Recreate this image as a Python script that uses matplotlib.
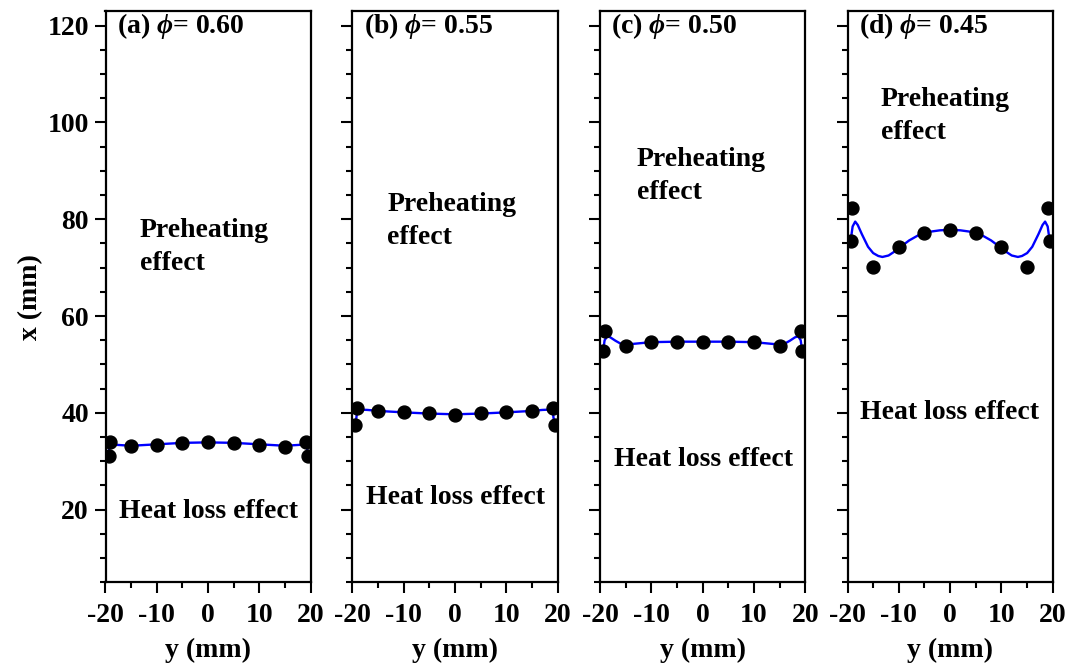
import matplotlib
matplotlib.use("Agg")
import matplotlib.pyplot as plt
from matplotlib.ticker import MultipleLocator

plt.rcParams['font.family'] = ['Liberation Serif', 'DejaVu Serif']
plt.rcParams['font.weight'] = 'bold'
plt.rcParams['axes.unicode_minus'] = False
plt.rcParams['mathtext.fontset'] = 'custom'
plt.rcParams['mathtext.it'] = 'Liberation Serif:italic:bold'
plt.rcParams['mathtext.rm'] = 'Liberation Serif:bold'
plt.rcParams['mathtext.bf'] = 'Liberation Serif:bold'

# Measured flame-front positions x (mm) across the channel width y (mm)
point_y = [-19.4, -19.1, -15, -10, -5, 0, 5, 10, 15, 19.1, 19.4]
front_a = [31.1, 34.0, 33.1, 33.4, 33.8, 33.9, 33.8, 33.4, 33.0, 34.0, 31.1]
front_b = [37.4, 41.0, 40.4, 40.1, 39.9, 39.6, 39.9, 40.1, 40.4, 41.0, 37.4]
front_c = [52.7, 56.9, 53.9, 54.7, 54.7, 54.7, 54.7, 54.7, 53.9, 56.9, 52.7]
front_d = [75.5, 82.4, 70.2, 74.2, 77.1, 77.8, 77.1, 74.2, 70.2, 82.4, 75.5]

# Fitted front profiles
fit_a_y = [-19.4, -19.2, -18, -15, -10, -5, 0, 5, 10, 15, 18, 19.2, 19.4]
fit_a_x = [31.1, 33.6, 33.4, 33.2, 33.5, 33.8, 33.9, 33.8, 33.5, 33.2, 33.4, 33.6, 31.1]

fit_b_y = [-19.4, -19.0, -17, -15, -10, -5, 0, 5, 10, 15, 17, 19.0, 19.4]
fit_b_x = [37.4, 40.7, 40.6, 40.4, 40.1, 39.85, 39.7, 39.85, 40.1, 40.4, 40.6, 40.7, 37.4]

fit_c_y = [-19.4, -19.1, -18.6, -18, -17, -16, -15, -13, -10, -5, 0,
           5, 10, 13, 15, 16, 17, 18, 18.6, 19.1, 19.4]
fit_c_x = [52.7, 55.0, 55.8, 55.6, 54.9, 54.3, 54.1, 54.3, 54.6, 54.7, 54.7,
           54.7, 54.6, 54.3, 54.1, 54.3, 54.9, 55.6, 55.8, 55.0, 52.7]

fit_d_y = [-19.4, -19.0, -18.5, -18.0, -17.2, -16.0, -15.0, -14.0, -13.2, -12.0,
           -11.0, -10.0, -8.0, -6.0, -4.0, -2.0, 0.0, 2.0, 4.0, 6.0, 8.0, 10.0,
           11.0, 12.0, 13.2, 14.0, 15.0, 16.0, 17.2, 18.0, 18.5, 19.0, 19.4]
fit_d_x = [75.5, 78.5, 79.5, 78.8, 76.9, 74.3, 73.0, 72.4, 72.2, 72.5,
           73.2, 74.0, 75.6, 76.8, 77.4, 77.7, 77.8, 77.7, 77.4, 76.8, 75.6, 74.0,
           73.2, 72.5, 72.2, 72.4, 73.0, 74.3, 76.9, 78.8, 79.5, 78.5, 75.5]

titles = [r"(a) $\phi$= 0.60", r"(b) $\phi$= 0.55", r"(c) $\phi$= 0.50", r"(d) $\phi$= 0.45"]
fronts = [front_a, front_b, front_c, front_d]
fits = [(fit_a_y, fit_a_x), (fit_b_y, fit_b_x), (fit_c_y, fit_c_x), (fit_d_y, fit_d_x)]

# annotation anchors (y, x) in data units
preheat_pos = [(-13.3, 74.3), (-13.2, 79.6), (-12.8, 88.9), (-13.5, 101.3)]
heatloss_pos = [(0.0, 19.6), (0.2, 22.5), (0.25, 30.4), (-0.2, 40.1)]

W, H = 1069, 665
fig = plt.figure(figsize=(W / 100, H / 100), dpi=100)

lefts = [105.5, 352.3, 600.0, 847.5]
width = 205.3
top_px, bottom_px = 11, 582.3

fs = 20
for i in range(4):
    ax = fig.add_axes([lefts[i] / W, 1 - bottom_px / H, width / W, (bottom_px - top_px) / H])
    fy, fx = fits[i]
    ax.plot(fy, fx, color='#0000ff', lw=1.7, zorder=2)
    ax.plot(point_y, fronts[i], 'o', color='black', ms=9.3, zorder=3)

    ax.set_xlim(-20, 20)
    ax.set_ylim(5, 123)
    ax.xaxis.set_major_locator(MultipleLocator(10))
    ax.xaxis.set_minor_locator(MultipleLocator(5))
    ax.yaxis.set_major_locator(MultipleLocator(20))
    ax.yaxis.set_minor_locator(MultipleLocator(5))
    ax.tick_params(which='major', direction='out', length=8, width=1.5,
                   labelsize=fs, pad=4)
    ax.tick_params(axis='x', which='major', pad=7)
    ax.tick_params(which='minor', direction='out', length=4.5, width=1.5)
    ax.tick_params(axis='y', labelleft=(i == 0))
    for s in ax.spines.values():
        s.set_linewidth(1.6)
    for lab in ax.get_xticklabels() + ax.get_yticklabels():
        lab.set_fontweight('bold')

    ax.set_xlabel('y (mm)', fontsize=fs, fontweight='bold', labelpad=7)
    if i == 0:
        ax.set_ylabel('x (mm)', fontsize=fs, fontweight='bold', labelpad=3)

    ax.text(-17.8, 120, titles[i], fontsize=fs, fontweight='bold',
            ha='left', va='center')
    px, py = preheat_pos[i]
    ax.text(px, py, 'Preheating\neffect', fontsize=fs, fontweight='bold',
            ha='left', va='center', linespacing=1.45)
    hx, hy = heatloss_pos[i]
    ax.text(hx, hy, 'Heat loss effect', fontsize=fs, fontweight='bold',
            ha='center', va='center')

fig.savefig('out.png', dpi=100)
